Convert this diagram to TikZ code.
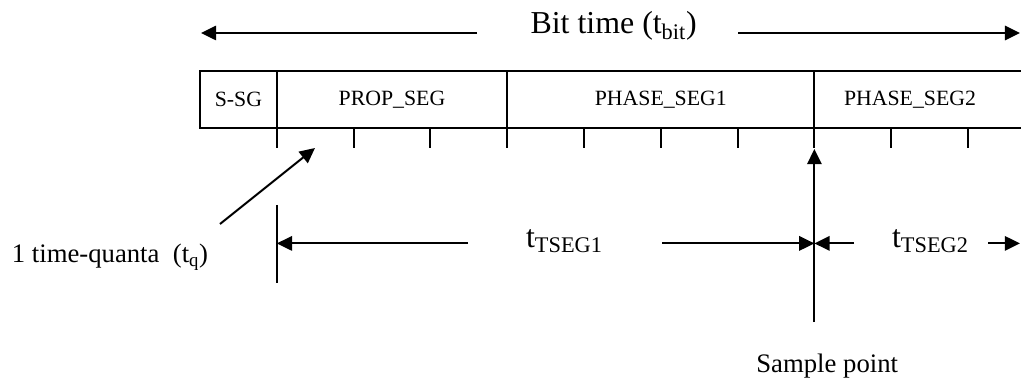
\documentclass[tikz,border=0pt]{standalone}
\usepackage{fontspec}
\setmainfont{Liberation Serif}
\usetikzlibrary{arrows.meta}
\tikzset{
  arr/.style={-{Triangle[length=3.8mm, width=3.6mm]}},
  bigtxt/.style={font=\fontsize{22.7}{27}\selectfont, inner sep=0pt, anchor=base},
  midtxt/.style={font=\fontsize{19}{22}\selectfont, inner sep=0pt, anchor=base},
  seglbl/.style={font=\fontsize{15.5}{18}\selectfont, inner sep=0pt},
}

\begin{document}
\begin{tikzpicture}[line width=1.4pt]
    \useasboundingbox (0,0) rectangle (25.525,9.525);
    % bit time
    \node[bigtxt] (bit) at (15.34,8.68) {Bit time (t\textsubscript{bit})};
    \coordinate (bitA) at (11.925,8.7);
    \coordinate (bitL) at (5.025,8.7);
    \coordinate (bitB) at (18.45,8.7);
    \coordinate (bitR) at (25.5,8.7);
    \draw[arr] (bitA) -- (bitL);
    \draw[arr] (bitB) -- (bitR);
    % segments
    \draw (5,6.325) rectangle (26.2,7.75);
    \foreach \k in {1,4,8}
      \draw (5+1.92*\k,6.325) -- ++(0,1.425);
    \foreach \k in {1,...,10}
      \draw (5+1.92*\k,6.325) -- ++(0,-0.5);
    \node[seglbl] (ssg) at (5.96,7.04) {S-SG};
    \node[seglbl] (prop) at (9.8,7.04) {PROP\_SEG};
    \node[seglbl] (ph1) at (16.52,7.04) {PHASE\_SEG1};
    \node[seglbl] (ph2) at (22.75,7.04) {PHASE\_SEG2};
    % time quantum
    \node[midtxt] (tq) at (2.75,2.95) {1 time-quanta\ \ (t\textsubscript{q})};
    \coordinate (tqA) at (5.5,3.925);
    \coordinate (tqB) at (7.875,5.825);
    \draw[arr] (tqA) -- (tqB);
    % sample point
    \node[midtxt] (sp) at (20.68,0.225) {Sample point};
    \coordinate (spB) at (20.36,1.475);
    \coordinate (spT) at (20.36,5.8);
    \draw[arr] (spB) -- (spT);
    % tseg1 / tseg2
    \coordinate (q1T) at (6.92,4.4);
    \coordinate (q1B) at (6.92,2.45);
    \draw (q1T) -- (q1B);
    \coordinate (q1) at (6.92,3.44);
    \coordinate (smp) at (20.36,3.44);
    \node[bigtxt] (tseg1) at (14.11,3.33) {t\textsubscript{TSEG1}};
    \coordinate (t1A) at (11.7,3.44);
    \coordinate (t1B) at (16.55,3.44);
    \draw[arr] (t1A) -- (q1);
    \draw[arr] (t1B) -- (smp);
    \node[bigtxt] (tseg2) at (23.26,3.33) {t\textsubscript{TSEG2}};
    \coordinate (t2A) at (21.35,3.44);
    \coordinate (t2B) at (24.7,3.44);
    \coordinate (t2E) at (25.5,3.44);
    \draw[arr] (t2A) -- (smp);
    \draw[arr] (t2B) -- (t2E);
\end{tikzpicture}
\end{document}
